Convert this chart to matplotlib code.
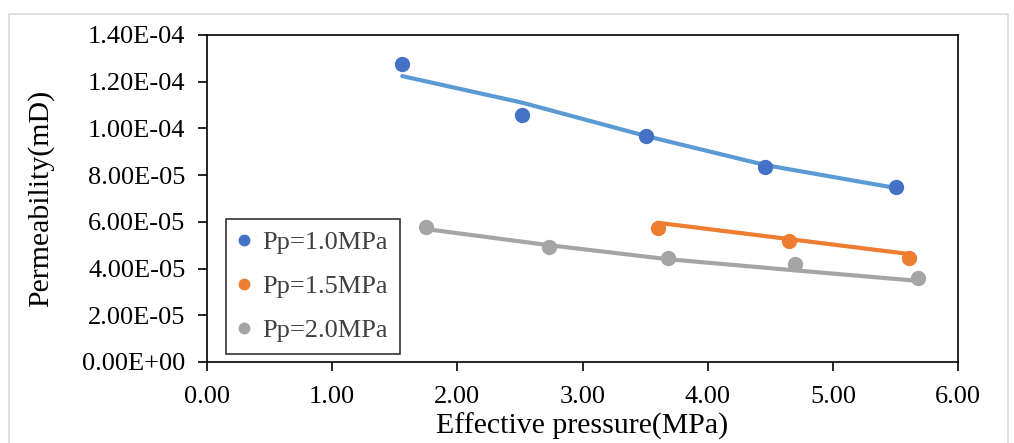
import matplotlib.pyplot as plt
from matplotlib.patches import Rectangle

plt.rcParams['font.family'] = ['Liberation Serif', 'DejaVu Serif']

# measured points
x_10 = [1.56, 2.52, 3.51, 4.46, 5.50]
k_10 = [12.76e-5, 10.57e-5, 9.67e-5, 8.35e-5, 7.50e-5]
x_15 = [3.60, 4.65, 5.61]
k_15 = [5.74e-5, 5.18e-5, 4.45e-5]
x_20 = [1.75, 2.73, 3.68, 4.70, 5.68]
k_20 = [5.78e-5, 4.92e-5, 4.45e-5, 4.20e-5, 3.60e-5]

# fitted curves
fit_10 = [12.24e-5, 11.10e-5, 9.67e-5, 8.43e-5, 7.45e-5]
fit_15 = [5.96e-5, 5.26e-5, 4.62e-5]
fit_20 = [5.69e-5, 5.00e-5, 4.40e-5, 3.92e-5, 3.47e-5]

labels = ['Pp=1.0MPa', 'Pp=1.5MPa', 'Pp=2.0MPa']
dot_colors = ['#4472C4', '#ED7D31', '#A5A5A5']
line_colors = ['#5B9BD5', '#ED7D31', '#A5A5A5']

xticks = [0, 1, 2, 3, 4, 5, 6]
yticks = [0, 2e-5, 4e-5, 6e-5, 8e-5, 1e-4, 1.2e-4, 1.4e-4]

fig = plt.figure(figsize=(10.14, 4.43), dpi=100)
ax = fig.add_axes([0.204, 0.183, 0.741, 0.738])

# light frame around the whole chart
fig.patches.append(Rectangle((0.009, -0.01), 0.985, 0.978, transform=fig.transFigure,
                             fill=False, edgecolor='#D9D9D9', linewidth=1.2))

series = [(x_10, k_10, fit_10), (x_15, k_15, fit_15), (x_20, k_20, fit_20)]
for (xs, ks, fs), lab, dc, lc in zip(series, labels, dot_colors, line_colors):
    ax.plot(xs, fs, color=lc, linewidth=3, solid_capstyle='round', zorder=2)
    ax.plot(xs, ks, 'o', color=dc, markersize=10, label=lab, zorder=3)

ax.set_xlim(0, 6)
ax.set_ylim(0, 1.4e-4)
ax.set_xticks(xticks)
ax.set_xticklabels([f'{v:.2f}' for v in xticks])
ax.set_yticks(yticks)
ax.set_yticklabels([f'{v:.2E}' for v in yticks])
ax.tick_params(axis='both', direction='out', length=6.5, width=1.2, labelsize=19, colors='black')
ax.tick_params(axis='x', pad=11)
ax.tick_params(axis='y', pad=9)
for sp in ax.spines.values():
    sp.set_linewidth(1.2)

ax.set_xlabel('Effective pressure(MPa)', fontsize=21.5, labelpad=3)
ax.set_ylabel('Permeability(mD)', fontsize=21.5, labelpad=20)

leg = ax.legend(loc='lower left', bbox_to_anchor=(0.025, 0.024), fontsize=19, frameon=True,
                fancybox=False, edgecolor='black', handlelength=0.5, handletextpad=0.45,
                borderpad=0.45, labelspacing=0.78, markerscale=0.75, borderaxespad=0)
leg.get_frame().set_linewidth(1.2)
for t in leg.get_texts():
    t.set_color('#404040')

fig.savefig('out.png', dpi=100)
